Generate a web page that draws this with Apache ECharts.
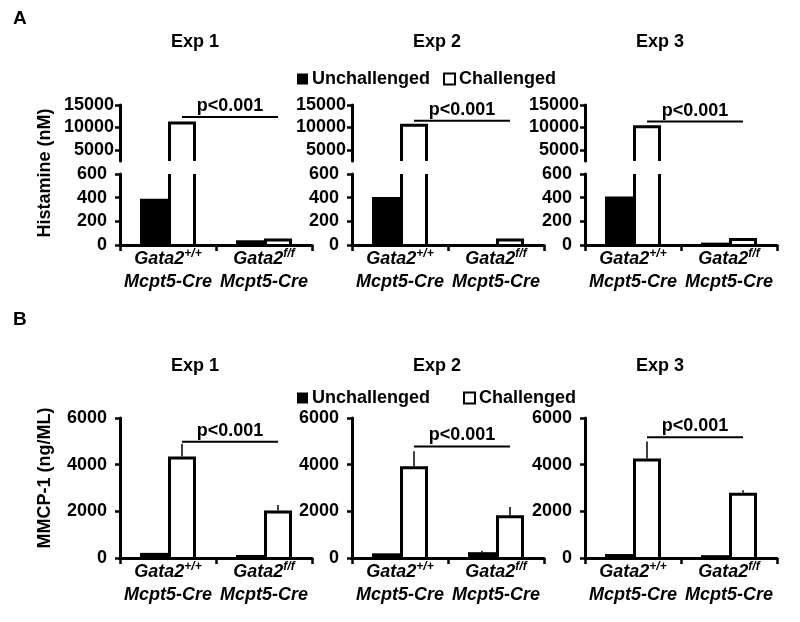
<!DOCTYPE html>
<html>
<head>
<meta charset="utf-8">
<script src="https://cdn.jsdelivr.net/npm/echarts@6/dist/echarts.min.js"></script>
<style>
  html, body { margin: 0; padding: 0; background: #fff; }
  #chart { width: 800px; height: 622px; }
</style>
</head>
<body>
<div id="chart"></div>
<script>
// ---- data ----
var genotypes = ['+/+', 'f/f']
var expNames = ['Exp 1', 'Exp 2', 'Exp 3']

// A: histamine (nM), [Gata2 +/+, Gata2 f/f] per experiment
var histUnchallenged = [[390, 40], [405, 5], [410, 20]]
var histChallenged = [[11300, 55], [10800, 55], [10500, 60]]
var histSigLevel = [12300, 11500, 11300]
var histUpperTicks = [5000, 10000, 15000]

// B: MMCP-1 (ng/mL)
var mmcpUnchallenged = [[220, 130], [200, 250], [170, 120]]
var mmcpUnchallengedErr = [[0, 0], [0, 60], [0, 0]]
var mmcpChallenged = [[4350, 2040], [3930, 1830], [4260, 2800]]
var mmcpChallengedErr = [[550, 230], [640, 360], [730, 100]]
var mmcpSigLevel = [4980, 4780, 5180]

// ---- layout ----
var FONT = '"Liberation Sans", Arial, sans-serif'
var panelLeft = [120, 352, 585]
var panelWidth = 192
var BAR_W = 28

function barRender(side, filled) {
  return function (params, api) {
    var cs = params.coordSys
    var top = api.coord([api.value(0), api.value(1)])
    var base = api.coord([api.value(0), 0])
    var x0 = side < 0 ? top[0] - BAR_W : top[0]
    var x1 = x0 + BAR_W
    var yTop = Math.max(top[1], cs.y)
    var yBot = Math.min(base[1], cs.y + cs.height)
    if (yTop >= yBot) return null
    if (filled) {
      return { type: 'rect', shape: { x: x0, y: yTop, width: BAR_W, height: yBot - yTop }, style: { fill: '#000' } }
    }
    var l = x0 + 1.5, r = x1 - 1.5
    var kids = [{ type: 'rect', shape: { x: x0, y: yTop, width: BAR_W, height: Math.max(0, yBot - yTop - 1.5) }, style: { fill: '#fff' } }]
    if (top[1] < cs.y) {
      // broken axis: leave the top open
      kids.push({ type: 'line', shape: { x1: l, y1: yTop, x2: l, y2: yBot }, style: { stroke: '#000', lineWidth: 3 } })
      kids.push({ type: 'line', shape: { x1: r, y1: yTop, x2: r, y2: yBot }, style: { stroke: '#000', lineWidth: 3 } })
    } else {
      kids.push({ type: 'polyline', shape: { points: [[l, yBot], [l, yTop + 1.5], [r, yTop + 1.5], [r, yBot]] },
        style: { stroke: '#000', lineWidth: 3, fill: null } })
    }
    return { type: 'group', children: kids }
  }
}

function errRender(side) {
  return function (params, api) {
    var v = api.value(1), e = api.value(2)
    if (!e) return null
    var p0 = api.coord([api.value(0), v])
    var p1 = api.coord([api.value(0), v + e])
    var x = side < 0 ? p0[0] - BAR_W / 2 : p0[0] + BAR_W / 2
    return { type: 'line', shape: { x1: x, y1: p0[1], x2: x, y2: p1[1] }, style: { stroke: '#000', lineWidth: 1.5 } }
  }
}

function sigRender(params, api) {
  var a = api.coord([0, api.value(1)])
  var b = api.coord([1, api.value(1)])
  var y = a[1]
  return { type: 'group', children: [
    { type: 'line', shape: { x1: a[0] + BAR_W / 2, y1: y, x2: b[0] + BAR_W / 2, y2: y }, style: { stroke: '#000', lineWidth: 2 } },
    { type: 'text', style: { text: 'p<0.001', x: (a[0] + b[0]) / 2 + BAR_W / 2, y: y - 2, align: 'center', verticalAlign: 'bottom',
      font: 'bold 18px ' + FONT, fill: '#000' } }
  ] }
}

function pairs(arr) { return arr.map(function (v, i) { return [i, v] }) }
function triples(arr, err) { return arr.map(function (v, i) { return [i, v, err[i]] }) }

var catLabel = {
  interval: 0, margin: 3,
  formatter: function (v) { return '{g|Gata2}{sup|' + v + '}\n{m|Mcpt5-Cre}' },
  rich: {
    g: { fontSize: 18, fontWeight: 'bold', fontStyle: 'italic', fontFamily: FONT, color: '#000', lineHeight: 23, verticalAlign: 'middle' },
    sup: { fontSize: 12, fontWeight: 'bold', fontStyle: 'italic', fontFamily: FONT, color: '#000', lineHeight: 14, verticalAlign: 'top' },
    m: { fontSize: 18, fontWeight: 'bold', fontStyle: 'italic', fontFamily: FONT, color: '#000', lineHeight: 23 }
  }
}
function valLabel(margin) {
  return { fontSize: 18, fontWeight: 'bold', color: '#000', fontFamily: FONT, margin: margin,
    formatter: function (v) { return String(v) } }
}
var axLine = { show: true, lineStyle: { color: '#000', width: 3 } }
var yTick = { show: true, length: 5, lineStyle: { color: '#000', width: 2.5 } }
var xTick = { show: true, length: 6, lineStyle: { color: '#000', width: 2.5 } }

var grids = [], xAxes = [], yAxes = [], series = []

for (var i = 0; i < 3; i++) {
  // A upper (broken part), A lower, B
  var gUp = grids.length
  grids.push({ left: panelLeft[i], width: panelWidth, top: 105, height: 56 })
  xAxes.push({ type: 'category', gridIndex: gUp, data: genotypes, show: false })
  yAxes.push({ type: 'value', gridIndex: gUp, min: 2500, max: 15000, splitLine: { show: false },
    axisLine: axLine, axisTick: Object.assign({ customValues: histUpperTicks }, yTick),
    axisLabel: Object.assign({ customValues: histUpperTicks }, valLabel(6)) })

  var gLow = grids.length
  grids.push({ left: panelLeft[i], width: panelWidth, top: 174, height: 71 })
  xAxes.push({ type: 'category', gridIndex: gLow, data: genotypes, axisLine: axLine, axisTick: xTick, axisLabel: catLabel })
  yAxes.push({ type: 'value', gridIndex: gLow, min: 0, max: 600, interval: 200, splitLine: { show: false },
    axisLine: axLine, axisTick: yTick, axisLabel: valLabel(13) })

  var gB = grids.length
  grids.push({ left: panelLeft[i], width: panelWidth, top: 418, height: 140 })
  xAxes.push({ type: 'category', gridIndex: gB, data: genotypes, axisLine: axLine, axisTick: xTick, axisLabel: catLabel })
  yAxes.push({ type: 'value', gridIndex: gB, min: 0, max: 6000, interval: 2000, splitLine: { show: false },
    axisLine: axLine, axisTick: yTick, axisLabel: valLabel(13) })

  ;[gUp, gLow].forEach(function (g) {
    series.push({ type: 'custom', name: 'Unchallenged', xAxisIndex: g, yAxisIndex: g, renderItem: barRender(-1, true),
      itemStyle: { color: '#000' }, encode: { x: 0, y: 1 }, data: pairs(histUnchallenged[i]) })
    series.push({ type: 'custom', name: 'Challenged', xAxisIndex: g, yAxisIndex: g, renderItem: barRender(1, false),
      itemStyle: { color: '#fff', borderColor: '#000', borderWidth: 2 }, encode: { x: 0, y: 1 }, data: pairs(histChallenged[i]) })
  })
  series.push({ type: 'custom', xAxisIndex: gUp, yAxisIndex: gUp, renderItem: sigRender, encode: { x: 0, y: 1 }, data: [[0, histSigLevel[i]]] })

  series.push({ type: 'custom', name: 'Unchallenged', xAxisIndex: gB, yAxisIndex: gB, renderItem: barRender(-1, true),
    itemStyle: { color: '#000' }, encode: { x: 0, y: 1 }, data: pairs(mmcpUnchallenged[i]) })
  series.push({ type: 'custom', name: 'Challenged', xAxisIndex: gB, yAxisIndex: gB, renderItem: barRender(1, false),
    itemStyle: { color: '#fff', borderColor: '#000', borderWidth: 2 }, encode: { x: 0, y: 1 }, data: pairs(mmcpChallenged[i]) })
  series.push({ type: 'custom', xAxisIndex: gB, yAxisIndex: gB, renderItem: errRender(-1), encode: { x: 0, y: 1 },
    data: triples(mmcpUnchallenged[i], mmcpUnchallengedErr[i]) })
  series.push({ type: 'custom', xAxisIndex: gB, yAxisIndex: gB, renderItem: errRender(1), encode: { x: 0, y: 1 },
    data: triples(mmcpChallenged[i], mmcpChallengedErr[i]) })
  series.push({ type: 'custom', xAxisIndex: gB, yAxisIndex: gB, renderItem: sigRender, encode: { x: 0, y: 1 }, data: [[0, mmcpSigLevel[i]]] })
}

function legendAt(top, gap) {
  return {
    top: top, left: 297, padding: 0, itemGap: gap, itemWidth: 11, itemHeight: 11, icon: 'rect', selectedMode: false,
    textStyle: { fontSize: 18, fontWeight: 'bold', color: '#000', fontFamily: FONT, padding: [0, 0, 0, -1] },
    data: [
      { name: 'Unchallenged', itemStyle: { color: '#000', borderWidth: 0 } },
      { name: 'Challenged', itemStyle: { color: '#fff', borderColor: '#000', borderWidth: 2 } }
    ]
  }
}

var titleCenters = [195, 437, 660]
var texts = []
titleCenters.forEach(function (cx, i) {
  texts.push({ type: 'text', x: cx, y: 42, style: { text: expNames[i], align: 'center', verticalAlign: 'middle', font: 'bold 18px ' + FONT, fill: '#000' } })
  texts.push({ type: 'text', x: cx, y: 366, style: { text: expNames[i], align: 'center', verticalAlign: 'middle', font: 'bold 18px ' + FONT, fill: '#000' } })
})
texts.push({ type: 'text', x: 13, y: 19, style: { text: 'A', verticalAlign: 'middle', font: 'bold 19px ' + FONT, fill: '#000' } })
texts.push({ type: 'text', x: 13, y: 320, style: { text: 'B', verticalAlign: 'middle', font: 'bold 19px ' + FONT, fill: '#000' } })
texts.push({ type: 'text', x: 45, y: 173, rotation: Math.PI / 2, style: { text: 'Histamine (nM)', align: 'center', verticalAlign: 'middle', font: 'bold 18px ' + FONT, fill: '#000' } })
texts.push({ type: 'text', x: 45, y: 478, rotation: Math.PI / 2, style: { text: 'MMCP-1 (ng/ML)', align: 'center', verticalAlign: 'middle', font: 'bold 18px ' + FONT, fill: '#000' } })

var chart = echarts.init(document.getElementById('chart'))
chart.setOption({
  animation: false,
  backgroundColor: '#fff',
  grid: grids,
  xAxis: xAxes,
  yAxis: yAxes,
  legend: [legendAt(70, 13), legendAt(389, 33)],
  graphic: texts,
  series: series
})
</script>
</body>
</html>
